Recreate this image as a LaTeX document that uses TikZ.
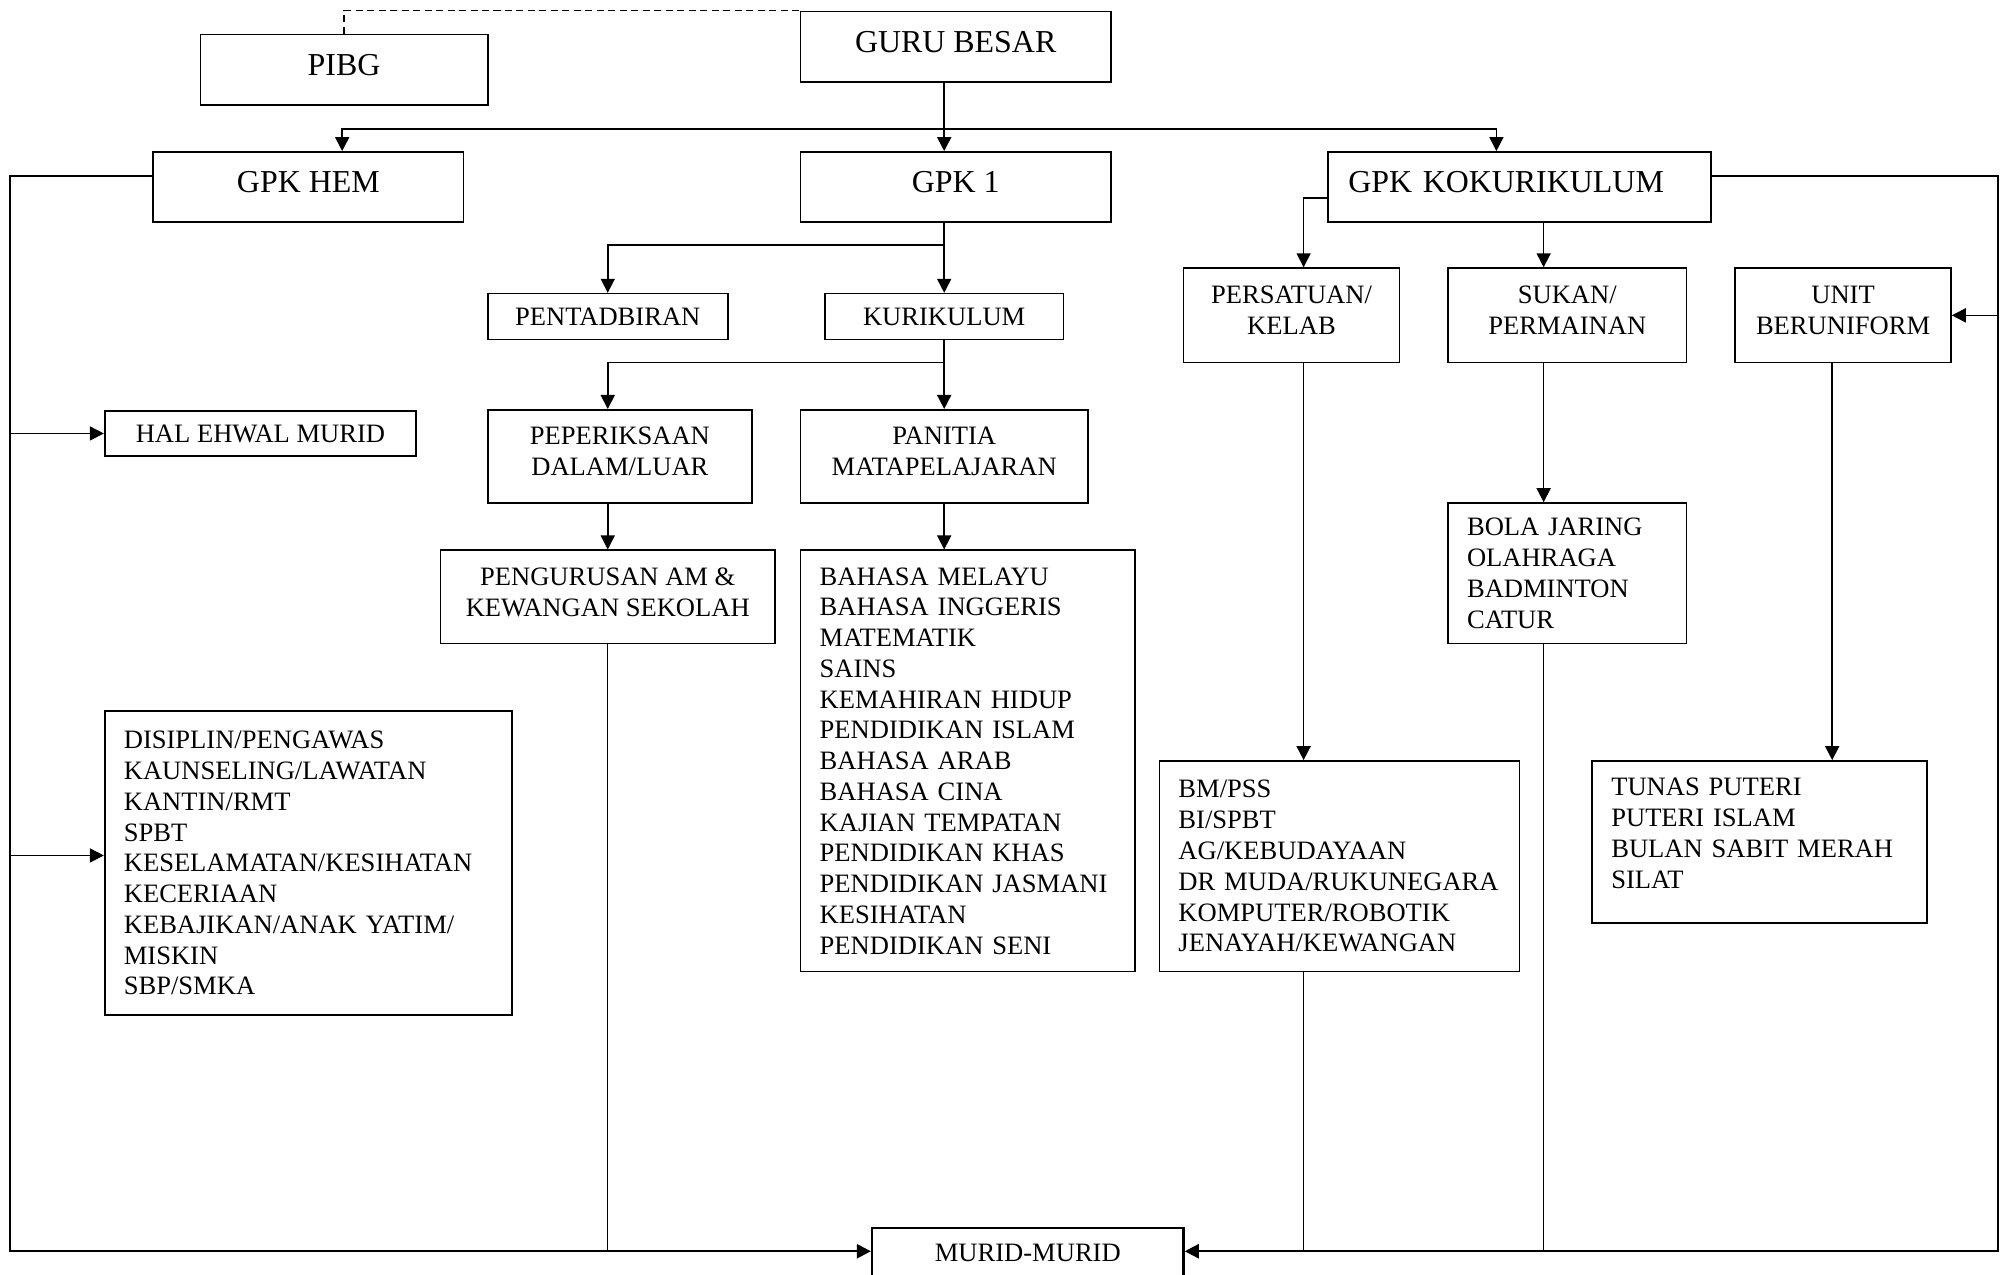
\documentclass[tikz,border=0pt]{standalone}
\usepackage{fontspec}
\setmainfont{Liberation Serif}
\usetikzlibrary{positioning,calc,arrows.meta}
\newcommand\hurufbesar{\fontsize{25}{30}\selectfont}
\newcommand\hurufkecil{\fontsize{20.8}{24.1}\selectfont}
\tikzset{
  kotak/.style n args={2}{draw,line width=1.3pt,minimum width=#1,minimum height=#2,inner sep=0pt,font=\hurufkecil,align=center},
  atas/.style={font=\hurufbesar,text depth=8pt},
  senarai/.style n args={2}{draw,line width=1.3pt,text width=#1,minimum height=#2,inner xsep=15pt,inner ysep=0pt,font=\hurufkecil,align=left},
  arr/.style={line width=1.3pt,draw=black,->,>={Triangle[length=11pt,width=11pt]}},
  garis/.style={line width=0.9pt,draw=black}
}

\begin{document}
\begin{tikzpicture}[x=1pt,y=-1pt]
	\useasboundingbox (0,0) rectangle (1568,998);
	% peringkat atas
	\node[kotak={243pt}{55pt},atas] (guru) at (748.5,36.5) {GURU BESAR};
	\node[kotak={225pt}{55pt},atas] (pibg) at (269.5,54.5) {PIBG};
	\node[kotak={243pt}{55pt},atas] (hem) at (241.5,146.5) {GPK HEM};
	\node[kotak={243pt}{55pt},atas] (gpksatu) at (748.5,146.5) {GPK 1};
	\node[kotak={300pt}{55pt},atas,align=left,text width=268pt,inner xsep=16pt] (koku) at (1190,146.5) {GPK KOKURIKULUM};

	% HEM
	\node[kotak={244pt}{35pt}] (hal) at (204,339.5) {HAL EHWAL MURID};
	\node[senarai={289pt}{238pt}] (disiplin) at (241.5,676) {DISIPLIN/PENGAWAS\\KAUNSELING/LAWATAN\\KANTIN/RMT\\SPBT\\KESELAMATAN/KESIHATAN\\KECERIAAN\\KEBAJIKAN/ANAK YATIM/\\MISKIN\\SBP/SMKA};

	% GPK 1
	\node[kotak={188pt}{36pt}] (pentadbiran) at (476,248) {PENTADBIRAN};
	\node[kotak={187pt}{36pt}] (kurikulum) at (739.5,248) {KURIKULUM};
	\node[kotak={207pt}{73pt},text depth=8pt] (periksa) at (485.5,357.5) {PEPERIKSAAN\\DALAM/LUAR};
	\node[kotak={225pt}{73pt},text depth=8pt] (panitia) at (739.5,357.5) {PANITIA\\MATAPELAJARAN};
	\node[kotak={262pt}{73pt},text depth=8pt] (urus) at (476,467.5) {PENGURUSAN AM \&\\KEWANGAN SEKOLAH};
	\node[senarai={232pt}{330pt}] (subjek) at (758,596) {BAHASA MELAYU\\BAHASA INGGERIS\\MATEMATIK\\SAINS\\KEMAHIRAN HIDUP\\PENDIDIKAN ISLAM\\BAHASA ARAB\\BAHASA CINA\\KAJIAN TEMPATAN\\PENDIDIKAN KHAS\\PENDIDIKAN JASMANI\\KESIHATAN\\PENDIDIKAN SENI};

	% kokurikulum
	\node[kotak={169pt}{74pt},text depth=8pt] (persatuan) at (1011.5,247) {PERSATUAN/\\KELAB};
	\node[kotak={187pt}{74pt},text depth=8pt] (sukan) at (1227.5,247) {SUKAN/\\PERMAINAN};
	\node[kotak={169pt}{74pt},text depth=8pt] (unit) at (1443.5,247) {UNIT\\BERUNIFORM};
	\node[senarai={157pt}{110pt}] (bola) at (1227.5,449) {BOLA JARING\\OLAHRAGA\\BADMINTON\\CATUR};
	\node[senarai={252pt}{165pt}] (kelab) at (1049,678.5) {BM/PSS\\BI/SPBT\\AG/KEBUDAYAAN\\DR MUDA/RUKUNEGARA\\KOMPUTER/ROBOTIK\\JENAYAH/KEWANGAN};
	\node[senarai={232pt}{127pt},text depth=86pt] (uniform) at (1378,659.5) {TUNAS PUTERI\\PUTERI ISLAM\\BULAN SABIT MERAH\\SILAT};

	\node[kotak={244pt}{38pt},line width=1.8pt] (murid) at (805,981) {MURID-MURID};

	% titik bantu
	\coordinate (bus) at (739,101);
	\coordinate (cabangA) at (739,192);
	\coordinate (cabangB) at (739,284);
	\coordinate (kiri) at (8,980);
	\coordinate (kanan) at (1565,980);
	\coordinate (kolA) at (1021,0);
	\coordinate (kolB) at (1209,0);
	\coordinate (kolC) at (1435,0);

	% sambungan
	\draw[garis,line width=1.2pt,dash pattern=on 5.5pt off 3.5pt] (pibg.north) |- (guru.north west);
	\draw[arr] (kurikulum |- guru.south) -- (kurikulum |- gpksatu.north);
	\draw[arr] (bus) -| ([xshift=26.5pt]hem.north);
	\draw[arr] (bus) -| ([xshift=-18pt]koku.north);

	\draw[arr,line width=1.8pt] ([yshift=8.5pt]hem.west) -| (kiri) -- (kiri -| murid.west);
	\draw[arr] (kiri |- hal.west) -- (hal.west);
	\draw[arr] (kiri |- disiplin.west) ++(0,-6) -- ([yshift=6pt]disiplin.west);

	\draw[arr] (kurikulum |- gpksatu.south) -- (kurikulum.north);
	\draw[arr] (cabangA) -| (pentadbiran.north);
	\draw[arr] (kurikulum.south) -- (panitia.north);
	\draw[arr] (cabangB) -| (urus |- periksa.north);
	\draw[arr] (urus |- periksa.south) -- (urus.north);
	\draw[arr] (panitia.south) -- (panitia |- subjek.north);
	\draw[garis] (urus.south) -- (urus |- kiri);

	\draw[arr] ([yshift=-8.5pt]koku.west) -| (kolA |- persatuan.north);
	\draw[arr] (kolB |- koku.south) -- (kolB |- sukan.north);
	\draw[arr,line width=1.8pt] ([yshift=8.5pt]koku.east) -| (kanan) -- (kanan -| murid.east);
	\draw[arr] (kanan |- unit.east) -- (unit.east);
	\foreach \Atas/\Bawah/\Kol in {persatuan/kelab/kolA,sukan/bola/kolB,unit/uniform/kolC} {
		\draw[arr] (\Kol |- \Atas.south) -- (\Kol |- \Bawah.north);
	}
	\foreach \Kotak/\Kol in {kelab/kolA,bola/kolB} {
		\draw[garis] (\Kol |- \Kotak.south) -- (\Kol |- kanan);
	}
\end{tikzpicture}
\end{document}
